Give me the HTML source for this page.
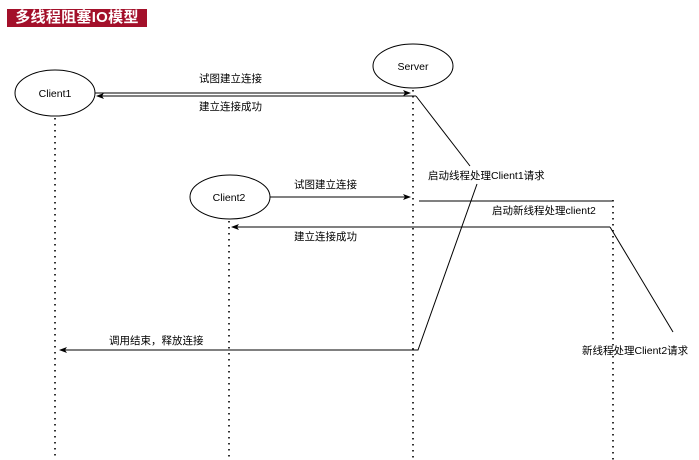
<!DOCTYPE html>
<html><head><meta charset="utf-8"><style>
html,body{margin:0;padding:0;background:#fff;}
body{width:699px;height:460px;overflow:hidden;position:relative;font-family:"Liberation Sans","Noto Sans CJK SC",sans-serif;}
.t{position:absolute;left:7px;top:9px;width:140px;height:18px;background:#a3102a;color:#fff;font-size:15px;font-weight:bold;line-height:18px;text-align:center;letter-spacing:0.3px;}
</style></head><body>
<div class="t">多线程阻塞IO模型</div>
<svg width="699" height="460" style="position:absolute;left:0;top:0" font-family="Liberation Sans, Noto Sans CJK SC, sans-serif" font-size="10.5" fill="#000">
<defs><marker id="a" markerWidth="8" markerHeight="8" refX="7" refY="4" orient="auto" markerUnits="userSpaceOnUse"><path d="M0,1 L8,4 L0,7 L2,4 Z" fill="#000"/></marker></defs>
<g stroke="#000" stroke-width="1.6" stroke-dasharray="1.5,4.5" fill="none">
<line x1="55" y1="118" x2="55" y2="460"/>
<line x1="413" y1="90" x2="413" y2="460"/>
<line x1="229" y1="221" x2="229" y2="460"/>
<line x1="613" y1="200" x2="613" y2="460"/>
</g>
<g fill="#fff" stroke="#000" stroke-width="1">
<ellipse cx="55" cy="93" rx="40" ry="23"/>
<ellipse cx="413" cy="66" rx="40" ry="22"/>
<ellipse cx="230" cy="197" rx="40" ry="22"/>
</g>
<g font-size="10.5" text-anchor="middle">
<text x="55" y="97">Client1</text>
<text x="413" y="70">Server</text>
<text x="229" y="201">Client2</text>
</g>
<g stroke="#000" stroke-width="1" fill="none">
<line x1="95" y1="93" x2="410" y2="93" marker-end="url(#a)"/>
<polyline points="416,96 97,96" marker-end="url(#a)"/>
<line x1="416" y1="96" x2="470" y2="166"/>
<polyline points="477,184 418,350 60,350" marker-end="url(#a)"/>
<line x1="270" y1="197" x2="410" y2="197" marker-end="url(#a)"/>
<line x1="419" y1="201" x2="613" y2="201"/>
<line x1="610" y1="227" x2="232" y2="227" marker-end="url(#a)"/>
<line x1="610" y1="227" x2="673" y2="332"/>
</g>
<text x="199" y="82">试图建立连接</text>
<text x="199" y="110">建立连接成功</text>
<text x="428" y="179">启动线程处理Client1请求</text>
<text x="294" y="188">试图建立连接</text>
<text x="492" y="214">启动新线程处理client2</text>
<text x="294" y="240">建立连接成功</text>
<text x="109" y="344">调用结束，释放连接</text>
<text x="582" y="354">新线程处理Client2请求</text>
</svg>
</body></html>
